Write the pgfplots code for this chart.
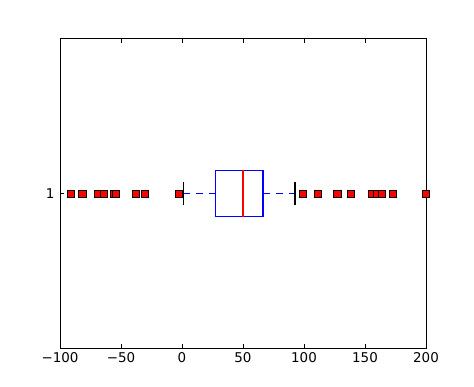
\documentclass[border=0pt]{standalone}
\usepackage{fontspec}
\setmainfont{DejaVu Sans}
\usepackage{pgfplots}
\pgfplotsset{compat=1.18}
\definecolor{mblue}{rgb}{0,0,1}
\begin{document}
\begin{tikzpicture}
\path[use as bounding box] (-60bp,-39bp) rectangle (414bp,348bp);
\begin{axis}[
  at={(0bp,0bp)}, anchor=south west,
  scale only axis, width=366bp, height=309bp,
  xmin=-100, xmax=200, ymin=0.5, ymax=1.5,
  xtick={-100,-50,0,50,100,150,200},
  xticklabels={−100,−50,0,50,100,150,200},
  ytick={1},
  yticklabels={1},
  tick align=inside,
  major tick length=4bp,
  tick style={black, line width=0.6bp},
  axis line style={black, line width=1bp},
  every tick label/.append style={font=\fontsize{13.5}{15}\selectfont, text=black},
  xticklabel style={yshift=-1bp},
  yticklabel style={xshift=-2bp},
  clip=true,
]
% box
\addplot[mblue, line width=1.6bp] coordinates {(27.4,0.925) (66.4,0.925) (66.4,1.075) (27.4,1.075) (27.4,0.925)};
% median
\addplot[red, line width=1.6bp] coordinates {(50,0.925) (50,1.075)};
% whiskers
\addplot[mblue, line width=1.6bp, dash pattern=on 7bp off 6bp] coordinates {(1.2,1) (27.4,1)};
\addplot[mblue, line width=1.6bp, dash pattern=on 7bp off 6bp] coordinates {(66.4,1) (92.8,1)};
% caps
\addplot[black, line width=1.6bp] coordinates {(1.2,0.9625) (1.2,1.0375)};
\addplot[black, line width=1.6bp] coordinates {(92.8,0.9625) (92.8,1.0375)};
% outliers
\addplot[only marks, mark=square*, mark size=3.6bp, mark options={fill=red, draw=black, line width=0.4bp}] coordinates {
(-91.2,1) (-81.8,1) (-68.7,1) (-64,1) (-56.1,1) (-54.2,1) (-37.8,1) (-30.5,1) (-2.6,1)
(99.1,1) (111.4,1) (127.2,1) (138.6,1) (155.8,1) (159.9,1) (164.0,1) (172.7,1) (199.5,1)
};
\end{axis}
\end{tikzpicture}
\end{document}
